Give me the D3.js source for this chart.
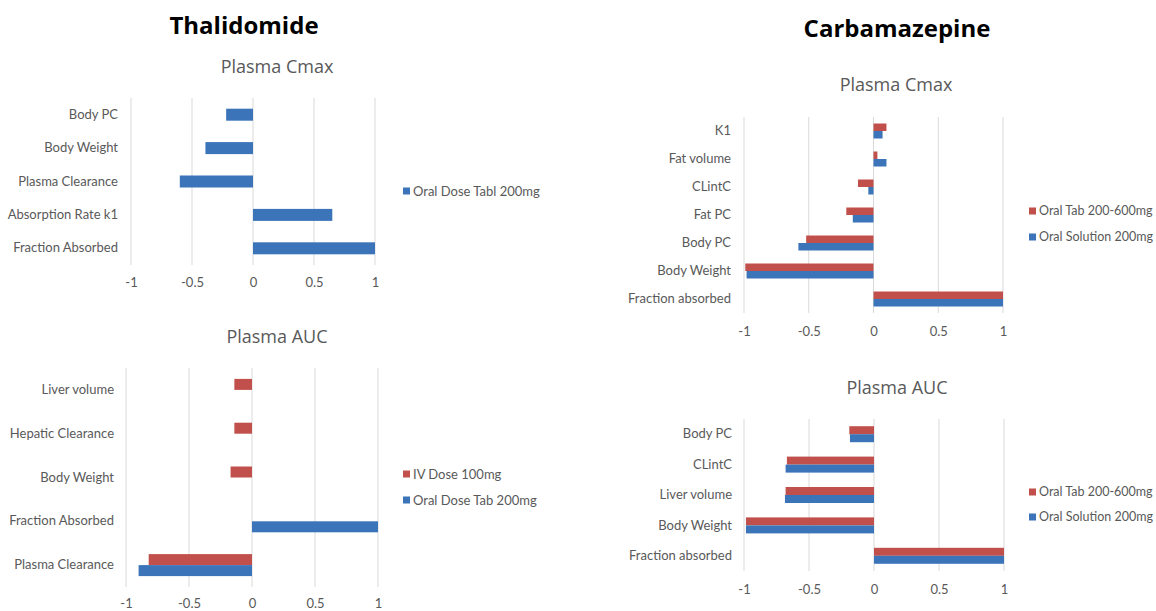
<!DOCTYPE html>
<html>
<head>
<meta charset="utf-8">
<script src="https://cdn.jsdelivr.net/npm/d3@7"></script>
<style>
  html, body { margin: 0; padding: 0; background: #fff; }
  svg { display: block; }
  text { font-family: Lato, "Open Sans", sans-serif; }
</style>
</head>
<body>
<svg id="chart" width="1156" height="611"></svg>
<script>
// ---- Sensitivity coefficients ----
// Thalidomide, plasma Cmax
const thalCmaxCategories = ["Body PC", "Body Weight", "Plasma Clearance", "Absorption Rate k1", "Fraction Absorbed"];
const thalCmaxOralTab = [-0.22, -0.39, -0.60, 0.65, 1.0];

// Thalidomide, plasma AUC
const thalAucCategories = ["Liver volume", "Hepatic Clearance", "Body Weight", "Fraction Absorbed", "Plasma Clearance"];
const thalAucIvDose = [-0.14, -0.14, -0.17, null, -0.82];
const thalAucOralTab = [null, null, null, 1.0, -0.90];

// Carbamazepine, plasma Cmax
const carbCmaxCategories = ["K1", "Fat volume", "CLintC", "Fat PC", "Body PC", "Body Weight", "Fraction absorbed"];
const carbCmaxOralTab = [0.10, 0.03, -0.12, -0.21, -0.52, -0.99, 1.0];
const carbCmaxOralSolution = [0.07, 0.10, -0.04, -0.16, -0.58, -0.98, 1.0];

// Carbamazepine, plasma AUC
const carbAucCategories = ["Body PC", "CLintC", "Liver volume", "Body Weight", "Fraction absorbed"];
const carbAucOralTab = [-0.19, -0.67, -0.68, -0.985, 1.0];
const carbAucOralSolution = [-0.185, -0.68, -0.685, -0.985, 1.0];

const xTickValues = [-1, -0.5, 0, 0.5, 1];
const xTickLabels = ["-1", "-0.5", "0", "0.5", "1"];

const BLUE = "#3b74b9";
const RED = "#c1504c";
const GRID = "#d9d9d9";
const TEXT = "#595959";
const SMALL = 13;
const HEAD_FONT = "'Open Sans', sans-serif";

const svg = d3.select("#chart");

// Drug headings
svg.append("text").attr("x", 244).attr("y", 34).attr("text-anchor", "middle")
  .style("font-family", HEAD_FONT)
  .attr("font-size", 24).attr("font-weight", "bold").attr("fill", "#000").text("Thalidomide");
svg.append("text").attr("x", 897).attr("y", 37).attr("text-anchor", "middle")
  .style("font-family", HEAD_FONT)
  .attr("font-size", 24).attr("font-weight", "bold").attr("fill", "#000").text("Carbamazepine");

function drawPanel(p) {
  const g = svg.append("g");
  const x = d3.scaleLinear().domain([-1, 1]).range([p.x0, p.x1]);
  const y = d3.scaleBand().domain(p.categories).range([p.y0, p.y1]);
  const seriesNames = p.series.map(s => s.name);
  const sub = d3.scaleBand().domain(seriesNames)
    .range([-p.barH * seriesNames.length / 2, p.barH * seriesNames.length / 2]);

  // title
  g.append("text").attr("x", p.titleX).attr("y", p.titleY).attr("text-anchor", "middle")
    .style("font-family", HEAD_FONT)
    .attr("font-size", 18).attr("fill", TEXT).text(p.title);

  // vertical gridlines
  g.selectAll("line.grid").data(xTickValues).join("line")
    .attr("x1", d => x(d)).attr("x2", d => x(d))
    .attr("y1", p.y0).attr("y2", p.y1)
    .attr("stroke", GRID).attr("stroke-width", 1);

  // bars
  p.series.forEach(s => {
    const rows = p.categories.map((c, i) => ({ c, v: s.values[i] })).filter(r => r.v != null);
    g.selectAll(null).data(rows).join("rect")
      .attr("x", r => Math.min(x(0), x(r.v)))
      .attr("width", r => Math.abs(x(r.v) - x(0)))
      .attr("y", r => y(r.c) + y.bandwidth() / 2 + sub(s.name))
      .attr("height", sub.bandwidth())
      .attr("fill", s.color);
  });

  // category labels
  const yAxis = d3.axisLeft(y).tickSize(0).tickPadding(0);
  const ya = g.append("g").attr("transform", `translate(${p.labelX},0)`).call(yAxis);
  ya.select(".domain").remove();
  ya.selectAll("text").attr("font-size", SMALL).attr("fill", TEXT);

  // value axis labels
  const xAxis = d3.axisBottom(x).tickValues(xTickValues).tickSize(0).tickPadding(0)
    .tickFormat((d, i) => xTickLabels[i]);
  const xa = g.append("g").attr("transform", `translate(0,${p.tickY})`).call(xAxis);
  xa.select(".domain").remove();
  xa.selectAll("text").attr("font-size", SMALL).attr("fill", TEXT).attr("dy", "0.32em");

  // legend
  p.legend.forEach((l, i) => {
    const ly = p.legendY + i * p.legendGap;
    g.append("rect").attr("x", p.legendX).attr("y", ly - 3.5).attr("width", 7).attr("height", 7).attr("fill", l.color);
    g.append("text").attr("x", p.legendX + 10).attr("y", ly).attr("dy", "0.35em")
      .attr("font-size", p.legendSize || SMALL).attr("fill", TEXT).text(l.name);
  });
}

drawPanel({
  title: "Plasma Cmax", titleX: 277, titleY: 73,
  categories: thalCmaxCategories,
  series: [{ name: "Oral Dose Tabl 200mg", values: thalCmaxOralTab, color: BLUE }],
  x0: 131, x1: 375, y0: 98, y1: 265, barH: 12,
  labelX: 118, tickY: 283,
  legend: [{ name: "Oral Dose Tabl 200mg", color: BLUE }],
  legendX: 403, legendY: 191, legendGap: 26
});

drawPanel({
  title: "Plasma AUC", titleX: 277, titleY: 343,
  categories: thalAucCategories,
  series: [
    { name: "IV Dose 100mg", values: thalAucIvDose, color: RED },
    { name: "Oral Dose Tab 200mg", values: thalAucOralTab, color: BLUE }
  ],
  x0: 126, x1: 378, y0: 368, y1: 587, barH: 11,
  labelX: 114, tickY: 604,
  legend: [{ name: "IV Dose 100mg", color: RED }, { name: "Oral Dose Tab 200mg", color: BLUE }],
  legendX: 403, legendY: 474, legendGap: 26
});

drawPanel({
  title: "Plasma Cmax", titleX: 896, titleY: 91,
  categories: carbCmaxCategories,
  series: [
    { name: "Oral Tab 200-600mg", values: carbCmaxOralTab, color: RED },
    { name: "Oral Solution 200mg", values: carbCmaxOralSolution, color: BLUE }
  ],
  x0: 744, x1: 1003, y0: 117, y1: 313, barH: 7.5,
  labelX: 731, tickY: 332,
  legend: [{ name: "Oral Tab 200-600mg", color: RED }, { name: "Oral Solution 200mg", color: BLUE }],
  legendX: 1029, legendY: 211, legendGap: 26, legendSize: 12.5
});

drawPanel({
  title: "Plasma AUC", titleX: 897, titleY: 394,
  categories: carbAucCategories,
  series: [
    { name: "Oral Tab 200-600mg", values: carbAucOralTab, color: RED },
    { name: "Oral Solution 200mg", values: carbAucOralSolution, color: BLUE }
  ],
  x0: 744, x1: 1004, y0: 419, y1: 571, barH: 8,
  labelX: 732, tickY: 590,
  legend: [{ name: "Oral Tab 200-600mg", color: RED }, { name: "Oral Solution 200mg", color: BLUE }],
  legendX: 1029, legendY: 492, legendGap: 25, legendSize: 12.5
});
</script>
</body>
</html>
